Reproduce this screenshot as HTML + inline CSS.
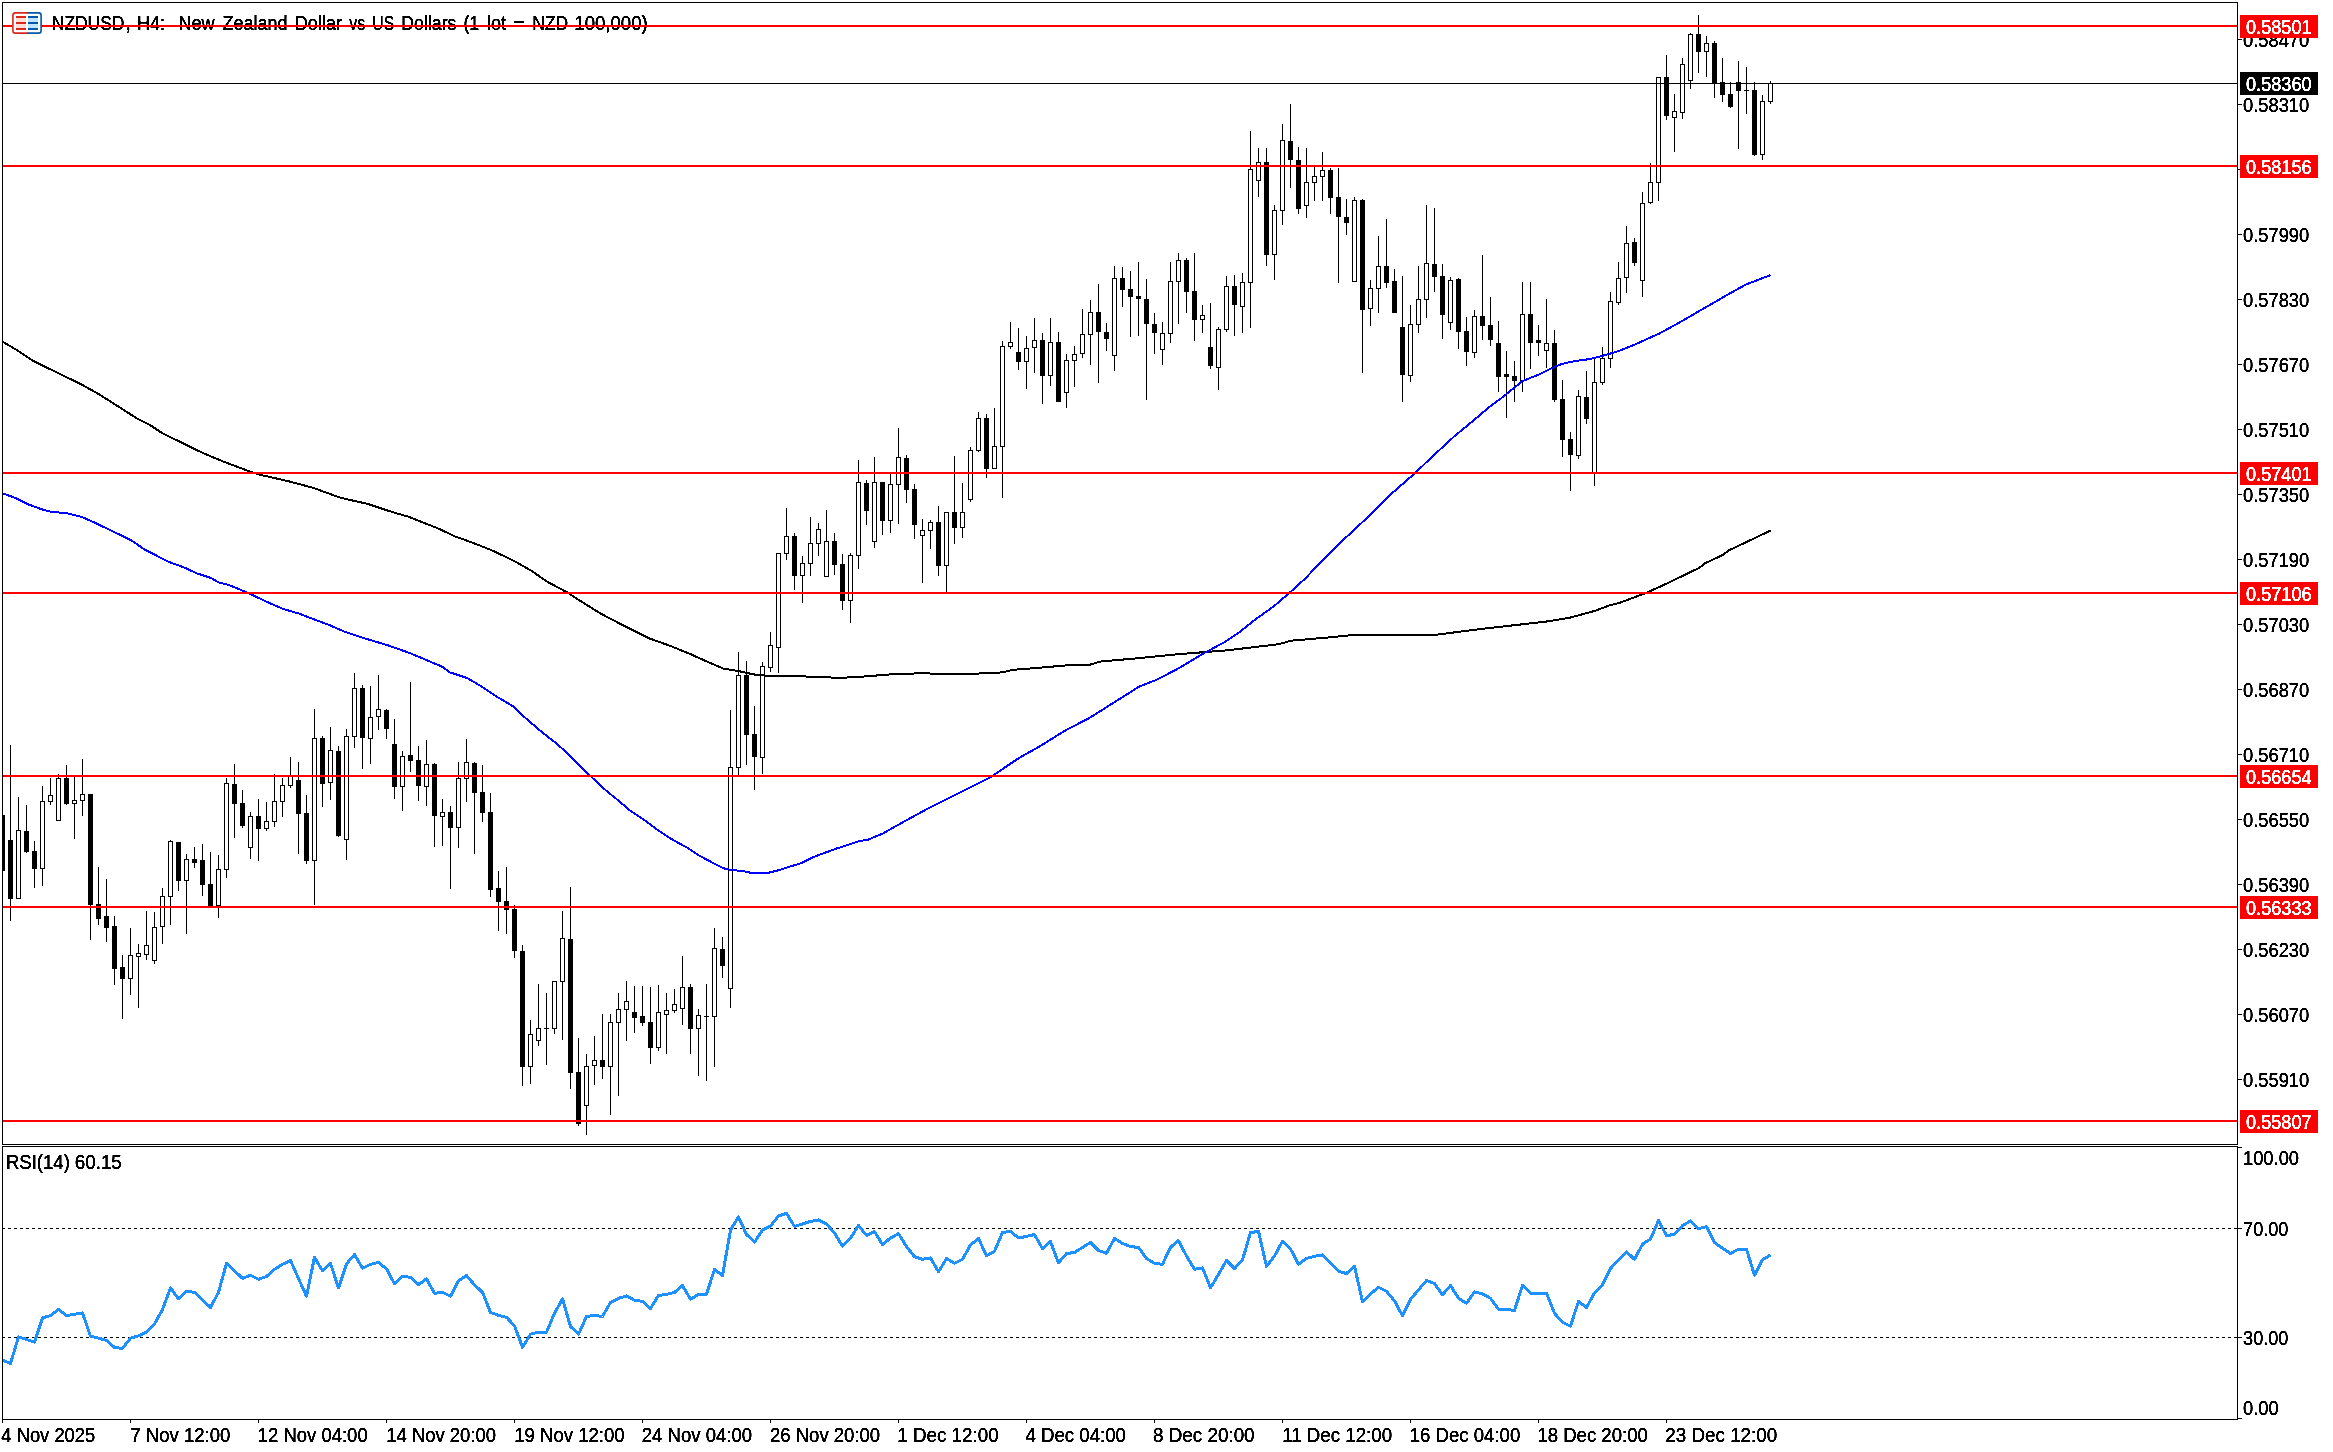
<!DOCTYPE html>
<html><head><meta charset="utf-8"><title>NZDUSD H4</title>
<style>html,body{margin:0;padding:0;background:#fff;}body{width:2333px;height:1452px;overflow:hidden;}svg{display:block;will-change:transform;}text{font-family:"Liberation Sans",sans-serif;}</style>
</head><body>
<svg width="2333" height="1452" viewBox="0 0 2333 1452">
<rect x="0" y="0" width="2333" height="1452" fill="#ffffff"/>
<defs><filter id="th" color-interpolation-filters="sRGB"><feComponentTransfer><feFuncA type="linear" slope="3" intercept="-1"/></feComponentTransfer></filter></defs>
<text filter="url(#th)" x="51.81" y="30" font-size="19.4" fill="#000" stroke="#000" stroke-width="0.4" textLength="72.57" lengthAdjust="spacingAndGlyphs">NZDUSD</text>
<text filter="url(#th)" x="125.5" y="30" font-size="19.4" fill="#000" stroke="#000" stroke-width="0.4">,</text>
<text filter="url(#th)" x="137.07" y="30" font-size="19.4" fill="#000" stroke="#000" stroke-width="0.4" textLength="28.07" lengthAdjust="spacingAndGlyphs">H4:</text>
<text filter="url(#th)" x="178.40" y="30" font-size="19.4" fill="#000" stroke="#000" stroke-width="0.4" textLength="36.09" lengthAdjust="spacingAndGlyphs">New</text>
<text filter="url(#th)" x="222.57" y="30" font-size="19.4" fill="#000" stroke="#000" stroke-width="0.4" textLength="64.88" lengthAdjust="spacingAndGlyphs">Zealand</text>
<text filter="url(#th)" x="294.82" y="30" font-size="19.4" fill="#000" stroke="#000" stroke-width="0.4" textLength="47.25" lengthAdjust="spacingAndGlyphs">Dollar</text>
<text filter="url(#th)" x="349.34" y="30" font-size="19.4" fill="#000" stroke="#000" stroke-width="0.4" textLength="16.01" lengthAdjust="spacingAndGlyphs">vs</text>
<text filter="url(#th)" x="372.33" y="30" font-size="19.4" fill="#000" stroke="#000" stroke-width="0.4" textLength="21.78" lengthAdjust="spacingAndGlyphs">US</text>
<text filter="url(#th)" x="401.33" y="30" font-size="19.4" fill="#000" stroke="#000" stroke-width="0.4" textLength="55.10" lengthAdjust="spacingAndGlyphs">Dollars</text>
<text filter="url(#th)" x="463.45" y="30" font-size="19.4" fill="#000" stroke="#000" stroke-width="0.4" textLength="15.84" lengthAdjust="spacingAndGlyphs">(1</text>
<text filter="url(#th)" x="486.92" y="30" font-size="19.4" fill="#000" stroke="#000" stroke-width="0.4" textLength="19.08" lengthAdjust="spacingAndGlyphs">lot</text>
<rect x="514" y="21" width="10" height="2" fill="#000" shape-rendering="crispEdges"/><rect x="514" y="25" width="10" height="2" fill="#000" shape-rendering="crispEdges"/>
<text filter="url(#th)" x="532.29" y="30" font-size="19.4" fill="#000" stroke="#000" stroke-width="0.4" textLength="35.99" lengthAdjust="spacingAndGlyphs">NZD</text>
<text filter="url(#th)" x="574.33" y="30" font-size="19.4" fill="#000" stroke="#000" stroke-width="0.4" textLength="73.43" lengthAdjust="spacingAndGlyphs">100,000)</text>
<g shape-rendering="crispEdges">
<rect x="2" y="2" width="2236" height="1" fill="#000"/>
<rect x="2" y="2" width="1" height="1143" fill="#000"/>
<rect x="2" y="1146" width="1" height="274" fill="#000"/>
<rect x="2237" y="2" width="1" height="1143" fill="#000"/>
<rect x="2237" y="1146" width="1" height="274" fill="#000"/>
<rect x="2" y="1144" width="2236" height="1" fill="#000"/>
<rect x="2" y="1146" width="2236" height="1" fill="#000"/>
<rect x="2" y="1419" width="2236" height="1" fill="#000"/>
<rect x="2238" y="39" width="4" height="1" fill="#000"/>
<rect x="2238" y="104" width="4" height="1" fill="#000"/>
<rect x="2238" y="169" width="4" height="1" fill="#000"/>
<rect x="2238" y="234" width="4" height="1" fill="#000"/>
<rect x="2238" y="299" width="4" height="1" fill="#000"/>
<rect x="2238" y="364" width="4" height="1" fill="#000"/>
<rect x="2238" y="429" width="4" height="1" fill="#000"/>
<rect x="2238" y="494" width="4" height="1" fill="#000"/>
<rect x="2238" y="559" width="4" height="1" fill="#000"/>
<rect x="2238" y="624" width="4" height="1" fill="#000"/>
<rect x="2238" y="689" width="4" height="1" fill="#000"/>
<rect x="2238" y="754" width="4" height="1" fill="#000"/>
<rect x="2238" y="819" width="4" height="1" fill="#000"/>
<rect x="2238" y="884" width="4" height="1" fill="#000"/>
<rect x="2238" y="949" width="4" height="1" fill="#000"/>
<rect x="2238" y="1014" width="4" height="1" fill="#000"/>
<rect x="2238" y="1079" width="4" height="1" fill="#000"/>
<rect x="2238" y="1147" width="4" height="1" fill="#000"/>
<rect x="2238" y="1418" width="4" height="1" fill="#000"/>
<rect x="2234" y="1228" width="8" height="1" fill="#000"/>
<rect x="2234" y="1337" width="8" height="1" fill="#000"/>
<rect x="2" y="1420" width="1" height="3" fill="#000"/>
<rect x="130" y="1420" width="1" height="3" fill="#000"/>
<rect x="258" y="1420" width="1" height="3" fill="#000"/>
<rect x="386" y="1420" width="1" height="3" fill="#000"/>
<rect x="514" y="1420" width="1" height="3" fill="#000"/>
<rect x="642" y="1420" width="1" height="3" fill="#000"/>
<rect x="770" y="1420" width="1" height="3" fill="#000"/>
<rect x="898" y="1420" width="1" height="3" fill="#000"/>
<rect x="1026" y="1420" width="1" height="3" fill="#000"/>
<rect x="1154" y="1420" width="1" height="3" fill="#000"/>
<rect x="1282" y="1420" width="1" height="3" fill="#000"/>
<rect x="1410" y="1420" width="1" height="3" fill="#000"/>
<rect x="1538" y="1420" width="1" height="3" fill="#000"/>
<rect x="1666" y="1420" width="1" height="3" fill="#000"/>
</g>
<g shape-rendering="crispEdges">
<rect x="3" y="815" width="2" height="56" fill="#000"/>
<rect x="10" y="745" width="1" height="176" fill="#000"/>
<rect x="8" y="840" width="5" height="59" fill="#000"/>
<rect x="18" y="797" width="1" height="102" fill="#000"/>
<rect x="16" y="830" width="5" height="69" fill="#000"/>
<rect x="17" y="831" width="3" height="67" fill="#fff"/>
<rect x="26" y="805" width="1" height="48" fill="#000"/>
<rect x="24" y="831" width="5" height="21" fill="#000"/>
<rect x="34" y="841" width="1" height="47" fill="#000"/>
<rect x="32" y="851" width="5" height="18" fill="#000"/>
<rect x="42" y="786" width="1" height="100" fill="#000"/>
<rect x="40" y="801" width="5" height="68" fill="#000"/>
<rect x="41" y="802" width="3" height="66" fill="#fff"/>
<rect x="50" y="778" width="1" height="27" fill="#000"/>
<rect x="48" y="795" width="5" height="7" fill="#000"/>
<rect x="49" y="796" width="3" height="5" fill="#fff"/>
<rect x="58" y="774" width="1" height="47" fill="#000"/>
<rect x="56" y="778" width="5" height="43" fill="#000"/>
<rect x="57" y="779" width="3" height="41" fill="#fff"/>
<rect x="66" y="765" width="1" height="40" fill="#000"/>
<rect x="64" y="778" width="5" height="26" fill="#000"/>
<rect x="74" y="777" width="1" height="62" fill="#000"/>
<rect x="72" y="800" width="5" height="4" fill="#000"/>
<rect x="73" y="801" width="3" height="2" fill="#fff"/>
<rect x="82" y="759" width="1" height="57" fill="#000"/>
<rect x="80" y="794" width="5" height="7" fill="#000"/>
<rect x="81" y="795" width="3" height="5" fill="#fff"/>
<rect x="90" y="794" width="1" height="146" fill="#000"/>
<rect x="88" y="794" width="5" height="111" fill="#000"/>
<rect x="98" y="867" width="1" height="58" fill="#000"/>
<rect x="96" y="904" width="5" height="15" fill="#000"/>
<rect x="106" y="879" width="1" height="63" fill="#000"/>
<rect x="104" y="916" width="5" height="12" fill="#000"/>
<rect x="114" y="916" width="1" height="69" fill="#000"/>
<rect x="112" y="926" width="5" height="43" fill="#000"/>
<rect x="122" y="955" width="1" height="64" fill="#000"/>
<rect x="120" y="967" width="5" height="12" fill="#000"/>
<rect x="130" y="928" width="1" height="67" fill="#000"/>
<rect x="128" y="955" width="5" height="24" fill="#000"/>
<rect x="129" y="956" width="3" height="22" fill="#fff"/>
<rect x="138" y="944" width="1" height="64" fill="#000"/>
<rect x="136" y="953" width="5" height="4" fill="#000"/>
<rect x="137" y="954" width="3" height="2" fill="#fff"/>
<rect x="146" y="911" width="1" height="49" fill="#000"/>
<rect x="144" y="945" width="5" height="10" fill="#000"/>
<rect x="145" y="946" width="3" height="8" fill="#fff"/>
<rect x="154" y="912" width="1" height="52" fill="#000"/>
<rect x="152" y="927" width="5" height="34" fill="#000"/>
<rect x="153" y="928" width="3" height="32" fill="#fff"/>
<rect x="162" y="888" width="1" height="56" fill="#000"/>
<rect x="160" y="896" width="5" height="31" fill="#000"/>
<rect x="161" y="897" width="3" height="29" fill="#fff"/>
<rect x="170" y="840" width="1" height="85" fill="#000"/>
<rect x="168" y="841" width="5" height="56" fill="#000"/>
<rect x="169" y="842" width="3" height="54" fill="#fff"/>
<rect x="178" y="842" width="1" height="49" fill="#000"/>
<rect x="176" y="842" width="5" height="39" fill="#000"/>
<rect x="186" y="854" width="1" height="80" fill="#000"/>
<rect x="184" y="859" width="5" height="22" fill="#000"/>
<rect x="185" y="860" width="3" height="20" fill="#fff"/>
<rect x="194" y="847" width="1" height="21" fill="#000"/>
<rect x="192" y="859" width="5" height="4" fill="#000"/>
<rect x="202" y="844" width="1" height="52" fill="#000"/>
<rect x="200" y="860" width="5" height="25" fill="#000"/>
<rect x="210" y="852" width="1" height="54" fill="#000"/>
<rect x="208" y="884" width="5" height="22" fill="#000"/>
<rect x="218" y="855" width="1" height="63" fill="#000"/>
<rect x="216" y="869" width="5" height="37" fill="#000"/>
<rect x="217" y="870" width="3" height="35" fill="#fff"/>
<rect x="226" y="778" width="1" height="100" fill="#000"/>
<rect x="224" y="783" width="5" height="87" fill="#000"/>
<rect x="225" y="784" width="3" height="85" fill="#fff"/>
<rect x="234" y="764" width="1" height="74" fill="#000"/>
<rect x="232" y="784" width="5" height="20" fill="#000"/>
<rect x="242" y="790" width="1" height="38" fill="#000"/>
<rect x="240" y="803" width="5" height="23" fill="#000"/>
<rect x="250" y="812" width="1" height="47" fill="#000"/>
<rect x="248" y="816" width="5" height="32" fill="#000"/>
<rect x="249" y="817" width="3" height="30" fill="#fff"/>
<rect x="258" y="799" width="1" height="62" fill="#000"/>
<rect x="256" y="816" width="5" height="13" fill="#000"/>
<rect x="266" y="802" width="1" height="29" fill="#000"/>
<rect x="264" y="821" width="5" height="8" fill="#000"/>
<rect x="265" y="822" width="3" height="6" fill="#fff"/>
<rect x="274" y="774" width="1" height="53" fill="#000"/>
<rect x="272" y="801" width="5" height="21" fill="#000"/>
<rect x="273" y="802" width="3" height="19" fill="#fff"/>
<rect x="282" y="778" width="1" height="39" fill="#000"/>
<rect x="280" y="785" width="5" height="17" fill="#000"/>
<rect x="281" y="786" width="3" height="15" fill="#fff"/>
<rect x="290" y="757" width="1" height="31" fill="#000"/>
<rect x="288" y="776" width="5" height="10" fill="#000"/>
<rect x="289" y="777" width="3" height="8" fill="#fff"/>
<rect x="298" y="762" width="1" height="92" fill="#000"/>
<rect x="296" y="780" width="5" height="34" fill="#000"/>
<rect x="306" y="795" width="1" height="69" fill="#000"/>
<rect x="304" y="813" width="5" height="48" fill="#000"/>
<rect x="314" y="709" width="1" height="196" fill="#000"/>
<rect x="312" y="738" width="5" height="123" fill="#000"/>
<rect x="313" y="739" width="3" height="121" fill="#fff"/>
<rect x="322" y="736" width="1" height="71" fill="#000"/>
<rect x="320" y="738" width="5" height="46" fill="#000"/>
<rect x="330" y="727" width="1" height="73" fill="#000"/>
<rect x="328" y="750" width="5" height="33" fill="#000"/>
<rect x="329" y="751" width="3" height="31" fill="#fff"/>
<rect x="338" y="746" width="1" height="91" fill="#000"/>
<rect x="336" y="751" width="5" height="85" fill="#000"/>
<rect x="346" y="729" width="1" height="131" fill="#000"/>
<rect x="344" y="736" width="5" height="104" fill="#000"/>
<rect x="345" y="737" width="3" height="102" fill="#fff"/>
<rect x="354" y="673" width="1" height="75" fill="#000"/>
<rect x="352" y="688" width="5" height="49" fill="#000"/>
<rect x="353" y="689" width="3" height="47" fill="#fff"/>
<rect x="362" y="685" width="1" height="84" fill="#000"/>
<rect x="360" y="688" width="5" height="50" fill="#000"/>
<rect x="370" y="686" width="1" height="78" fill="#000"/>
<rect x="368" y="717" width="5" height="22" fill="#000"/>
<rect x="369" y="718" width="3" height="20" fill="#fff"/>
<rect x="378" y="675" width="1" height="55" fill="#000"/>
<rect x="376" y="709" width="5" height="8" fill="#000"/>
<rect x="377" y="710" width="3" height="6" fill="#fff"/>
<rect x="386" y="709" width="1" height="30" fill="#000"/>
<rect x="384" y="710" width="5" height="19" fill="#000"/>
<rect x="394" y="719" width="1" height="80" fill="#000"/>
<rect x="392" y="744" width="5" height="43" fill="#000"/>
<rect x="402" y="751" width="1" height="60" fill="#000"/>
<rect x="400" y="756" width="5" height="31" fill="#000"/>
<rect x="401" y="757" width="3" height="29" fill="#fff"/>
<rect x="410" y="682" width="1" height="90" fill="#000"/>
<rect x="408" y="755" width="5" height="6" fill="#000"/>
<rect x="418" y="746" width="1" height="55" fill="#000"/>
<rect x="416" y="760" width="5" height="26" fill="#000"/>
<rect x="426" y="740" width="1" height="66" fill="#000"/>
<rect x="424" y="764" width="5" height="23" fill="#000"/>
<rect x="425" y="765" width="3" height="21" fill="#fff"/>
<rect x="434" y="763" width="1" height="84" fill="#000"/>
<rect x="432" y="764" width="5" height="52" fill="#000"/>
<rect x="442" y="799" width="1" height="47" fill="#000"/>
<rect x="440" y="812" width="5" height="5" fill="#000"/>
<rect x="441" y="813" width="3" height="3" fill="#fff"/>
<rect x="450" y="806" width="1" height="83" fill="#000"/>
<rect x="448" y="812" width="5" height="16" fill="#000"/>
<rect x="458" y="762" width="1" height="86" fill="#000"/>
<rect x="456" y="778" width="5" height="50" fill="#000"/>
<rect x="457" y="779" width="3" height="48" fill="#fff"/>
<rect x="466" y="739" width="1" height="63" fill="#000"/>
<rect x="464" y="762" width="5" height="17" fill="#000"/>
<rect x="465" y="763" width="3" height="15" fill="#fff"/>
<rect x="474" y="762" width="1" height="92" fill="#000"/>
<rect x="472" y="763" width="5" height="30" fill="#000"/>
<rect x="482" y="765" width="1" height="57" fill="#000"/>
<rect x="480" y="792" width="5" height="21" fill="#000"/>
<rect x="490" y="793" width="1" height="104" fill="#000"/>
<rect x="488" y="812" width="5" height="78" fill="#000"/>
<rect x="498" y="871" width="1" height="60" fill="#000"/>
<rect x="496" y="888" width="5" height="14" fill="#000"/>
<rect x="506" y="867" width="1" height="67" fill="#000"/>
<rect x="504" y="901" width="5" height="9" fill="#000"/>
<rect x="514" y="905" width="1" height="53" fill="#000"/>
<rect x="512" y="909" width="5" height="42" fill="#000"/>
<rect x="522" y="945" width="1" height="141" fill="#000"/>
<rect x="520" y="951" width="5" height="116" fill="#000"/>
<rect x="530" y="1020" width="1" height="64" fill="#000"/>
<rect x="528" y="1034" width="5" height="33" fill="#000"/>
<rect x="529" y="1035" width="3" height="31" fill="#fff"/>
<rect x="538" y="984" width="1" height="62" fill="#000"/>
<rect x="536" y="1028" width="5" height="13" fill="#000"/>
<rect x="537" y="1029" width="3" height="11" fill="#fff"/>
<rect x="546" y="993" width="1" height="72" fill="#000"/>
<rect x="544" y="1028" width="5" height="1" fill="#000"/>
<rect x="554" y="981" width="1" height="53" fill="#000"/>
<rect x="552" y="981" width="5" height="48" fill="#000"/>
<rect x="553" y="982" width="3" height="46" fill="#fff"/>
<rect x="562" y="911" width="1" height="129" fill="#000"/>
<rect x="560" y="938" width="5" height="44" fill="#000"/>
<rect x="561" y="939" width="3" height="42" fill="#fff"/>
<rect x="570" y="887" width="1" height="202" fill="#000"/>
<rect x="568" y="939" width="5" height="134" fill="#000"/>
<rect x="578" y="1038" width="1" height="88" fill="#000"/>
<rect x="576" y="1072" width="5" height="52" fill="#000"/>
<rect x="586" y="1054" width="1" height="81" fill="#000"/>
<rect x="584" y="1066" width="5" height="40" fill="#000"/>
<rect x="585" y="1067" width="3" height="38" fill="#fff"/>
<rect x="594" y="1036" width="1" height="49" fill="#000"/>
<rect x="592" y="1060" width="5" height="6" fill="#000"/>
<rect x="593" y="1061" width="3" height="4" fill="#fff"/>
<rect x="602" y="1014" width="1" height="65" fill="#000"/>
<rect x="600" y="1060" width="5" height="7" fill="#000"/>
<rect x="610" y="1014" width="1" height="101" fill="#000"/>
<rect x="608" y="1022" width="5" height="45" fill="#000"/>
<rect x="609" y="1023" width="3" height="43" fill="#fff"/>
<rect x="618" y="993" width="1" height="103" fill="#000"/>
<rect x="616" y="1009" width="5" height="14" fill="#000"/>
<rect x="617" y="1010" width="3" height="12" fill="#fff"/>
<rect x="626" y="981" width="1" height="60" fill="#000"/>
<rect x="624" y="1001" width="5" height="9" fill="#000"/>
<rect x="625" y="1002" width="3" height="7" fill="#fff"/>
<rect x="634" y="986" width="1" height="47" fill="#000"/>
<rect x="632" y="1012" width="5" height="6" fill="#000"/>
<rect x="642" y="986" width="1" height="40" fill="#000"/>
<rect x="640" y="1016" width="5" height="7" fill="#000"/>
<rect x="650" y="987" width="1" height="77" fill="#000"/>
<rect x="648" y="1022" width="5" height="26" fill="#000"/>
<rect x="658" y="985" width="1" height="66" fill="#000"/>
<rect x="656" y="1012" width="5" height="36" fill="#000"/>
<rect x="657" y="1013" width="3" height="34" fill="#fff"/>
<rect x="666" y="993" width="1" height="61" fill="#000"/>
<rect x="664" y="1010" width="5" height="5" fill="#000"/>
<rect x="665" y="1011" width="3" height="3" fill="#fff"/>
<rect x="674" y="989" width="1" height="24" fill="#000"/>
<rect x="672" y="1004" width="5" height="7" fill="#000"/>
<rect x="673" y="1005" width="3" height="5" fill="#fff"/>
<rect x="682" y="956" width="1" height="69" fill="#000"/>
<rect x="680" y="987" width="5" height="22" fill="#000"/>
<rect x="681" y="988" width="3" height="20" fill="#fff"/>
<rect x="690" y="984" width="1" height="70" fill="#000"/>
<rect x="688" y="987" width="5" height="42" fill="#000"/>
<rect x="698" y="1009" width="1" height="67" fill="#000"/>
<rect x="696" y="1015" width="5" height="14" fill="#000"/>
<rect x="697" y="1016" width="3" height="12" fill="#fff"/>
<rect x="706" y="984" width="1" height="97" fill="#000"/>
<rect x="704" y="1016" width="5" height="1" fill="#000"/>
<rect x="714" y="928" width="1" height="139" fill="#000"/>
<rect x="712" y="948" width="5" height="69" fill="#000"/>
<rect x="713" y="949" width="3" height="67" fill="#fff"/>
<rect x="722" y="937" width="1" height="41" fill="#000"/>
<rect x="720" y="949" width="5" height="17" fill="#000"/>
<rect x="730" y="710" width="1" height="298" fill="#000"/>
<rect x="728" y="767" width="5" height="222" fill="#000"/>
<rect x="729" y="768" width="3" height="220" fill="#fff"/>
<rect x="738" y="652" width="1" height="123" fill="#000"/>
<rect x="736" y="675" width="5" height="93" fill="#000"/>
<rect x="737" y="676" width="3" height="91" fill="#fff"/>
<rect x="746" y="661" width="1" height="104" fill="#000"/>
<rect x="744" y="675" width="5" height="60" fill="#000"/>
<rect x="754" y="706" width="1" height="84" fill="#000"/>
<rect x="752" y="734" width="5" height="23" fill="#000"/>
<rect x="762" y="662" width="1" height="112" fill="#000"/>
<rect x="760" y="666" width="5" height="92" fill="#000"/>
<rect x="761" y="667" width="3" height="90" fill="#fff"/>
<rect x="770" y="632" width="1" height="40" fill="#000"/>
<rect x="768" y="645" width="5" height="23" fill="#000"/>
<rect x="769" y="646" width="3" height="21" fill="#fff"/>
<rect x="778" y="553" width="1" height="120" fill="#000"/>
<rect x="776" y="553" width="5" height="95" fill="#000"/>
<rect x="777" y="554" width="3" height="93" fill="#fff"/>
<rect x="786" y="508" width="1" height="52" fill="#000"/>
<rect x="784" y="536" width="5" height="18" fill="#000"/>
<rect x="785" y="537" width="3" height="16" fill="#fff"/>
<rect x="794" y="533" width="1" height="57" fill="#000"/>
<rect x="792" y="536" width="5" height="40" fill="#000"/>
<rect x="802" y="556" width="1" height="47" fill="#000"/>
<rect x="800" y="563" width="5" height="13" fill="#000"/>
<rect x="801" y="564" width="3" height="11" fill="#fff"/>
<rect x="810" y="517" width="1" height="59" fill="#000"/>
<rect x="808" y="543" width="5" height="21" fill="#000"/>
<rect x="809" y="544" width="3" height="19" fill="#fff"/>
<rect x="818" y="523" width="1" height="33" fill="#000"/>
<rect x="816" y="529" width="5" height="15" fill="#000"/>
<rect x="817" y="530" width="3" height="13" fill="#fff"/>
<rect x="826" y="510" width="1" height="67" fill="#000"/>
<rect x="824" y="541" width="5" height="36" fill="#000"/>
<rect x="825" y="542" width="3" height="34" fill="#fff"/>
<rect x="834" y="533" width="1" height="42" fill="#000"/>
<rect x="832" y="541" width="5" height="24" fill="#000"/>
<rect x="842" y="554" width="1" height="56" fill="#000"/>
<rect x="840" y="564" width="5" height="37" fill="#000"/>
<rect x="850" y="553" width="1" height="70" fill="#000"/>
<rect x="848" y="555" width="5" height="46" fill="#000"/>
<rect x="849" y="556" width="3" height="44" fill="#fff"/>
<rect x="858" y="460" width="1" height="109" fill="#000"/>
<rect x="856" y="482" width="5" height="74" fill="#000"/>
<rect x="857" y="483" width="3" height="72" fill="#fff"/>
<rect x="866" y="480" width="1" height="45" fill="#000"/>
<rect x="864" y="483" width="5" height="28" fill="#000"/>
<rect x="874" y="457" width="1" height="91" fill="#000"/>
<rect x="872" y="482" width="5" height="60" fill="#000"/>
<rect x="873" y="483" width="3" height="58" fill="#fff"/>
<rect x="882" y="482" width="1" height="53" fill="#000"/>
<rect x="880" y="482" width="5" height="39" fill="#000"/>
<rect x="890" y="474" width="1" height="59" fill="#000"/>
<rect x="888" y="484" width="5" height="37" fill="#000"/>
<rect x="889" y="485" width="3" height="35" fill="#fff"/>
<rect x="898" y="428" width="1" height="96" fill="#000"/>
<rect x="896" y="457" width="5" height="28" fill="#000"/>
<rect x="897" y="458" width="3" height="26" fill="#fff"/>
<rect x="906" y="455" width="1" height="48" fill="#000"/>
<rect x="904" y="458" width="5" height="32" fill="#000"/>
<rect x="914" y="484" width="1" height="55" fill="#000"/>
<rect x="912" y="489" width="5" height="36" fill="#000"/>
<rect x="922" y="519" width="1" height="64" fill="#000"/>
<rect x="920" y="530" width="5" height="6" fill="#000"/>
<rect x="921" y="531" width="3" height="4" fill="#fff"/>
<rect x="930" y="520" width="1" height="29" fill="#000"/>
<rect x="928" y="522" width="5" height="9" fill="#000"/>
<rect x="929" y="523" width="3" height="7" fill="#fff"/>
<rect x="938" y="506" width="1" height="70" fill="#000"/>
<rect x="936" y="522" width="5" height="44" fill="#000"/>
<rect x="946" y="512" width="1" height="80" fill="#000"/>
<rect x="944" y="512" width="5" height="54" fill="#000"/>
<rect x="945" y="513" width="3" height="52" fill="#fff"/>
<rect x="954" y="456" width="1" height="88" fill="#000"/>
<rect x="952" y="512" width="5" height="16" fill="#000"/>
<rect x="962" y="483" width="1" height="55" fill="#000"/>
<rect x="960" y="512" width="5" height="16" fill="#000"/>
<rect x="961" y="513" width="3" height="14" fill="#fff"/>
<rect x="970" y="447" width="1" height="55" fill="#000"/>
<rect x="968" y="450" width="5" height="50" fill="#000"/>
<rect x="969" y="451" width="3" height="48" fill="#fff"/>
<rect x="978" y="412" width="1" height="40" fill="#000"/>
<rect x="976" y="418" width="5" height="33" fill="#000"/>
<rect x="977" y="419" width="3" height="31" fill="#fff"/>
<rect x="986" y="414" width="1" height="64" fill="#000"/>
<rect x="984" y="418" width="5" height="51" fill="#000"/>
<rect x="994" y="408" width="1" height="61" fill="#000"/>
<rect x="992" y="446" width="5" height="23" fill="#000"/>
<rect x="993" y="447" width="3" height="21" fill="#fff"/>
<rect x="1002" y="341" width="1" height="157" fill="#000"/>
<rect x="1000" y="346" width="5" height="101" fill="#000"/>
<rect x="1001" y="347" width="3" height="99" fill="#fff"/>
<rect x="1010" y="322" width="1" height="27" fill="#000"/>
<rect x="1008" y="342" width="5" height="5" fill="#000"/>
<rect x="1009" y="343" width="3" height="3" fill="#fff"/>
<rect x="1018" y="328" width="1" height="42" fill="#000"/>
<rect x="1016" y="352" width="5" height="10" fill="#000"/>
<rect x="1026" y="336" width="1" height="53" fill="#000"/>
<rect x="1024" y="348" width="5" height="14" fill="#000"/>
<rect x="1025" y="349" width="3" height="12" fill="#fff"/>
<rect x="1034" y="318" width="1" height="55" fill="#000"/>
<rect x="1032" y="340" width="5" height="8" fill="#000"/>
<rect x="1033" y="341" width="3" height="6" fill="#fff"/>
<rect x="1042" y="333" width="1" height="71" fill="#000"/>
<rect x="1040" y="340" width="5" height="36" fill="#000"/>
<rect x="1050" y="318" width="1" height="68" fill="#000"/>
<rect x="1048" y="342" width="5" height="34" fill="#000"/>
<rect x="1049" y="343" width="3" height="32" fill="#fff"/>
<rect x="1058" y="332" width="1" height="70" fill="#000"/>
<rect x="1056" y="342" width="5" height="60" fill="#000"/>
<rect x="1066" y="354" width="1" height="54" fill="#000"/>
<rect x="1064" y="360" width="5" height="33" fill="#000"/>
<rect x="1065" y="361" width="3" height="31" fill="#fff"/>
<rect x="1074" y="346" width="1" height="41" fill="#000"/>
<rect x="1072" y="354" width="5" height="7" fill="#000"/>
<rect x="1073" y="355" width="3" height="5" fill="#fff"/>
<rect x="1082" y="309" width="1" height="49" fill="#000"/>
<rect x="1080" y="334" width="5" height="20" fill="#000"/>
<rect x="1081" y="335" width="3" height="18" fill="#fff"/>
<rect x="1090" y="300" width="1" height="65" fill="#000"/>
<rect x="1088" y="312" width="5" height="23" fill="#000"/>
<rect x="1089" y="313" width="3" height="21" fill="#fff"/>
<rect x="1098" y="284" width="1" height="99" fill="#000"/>
<rect x="1096" y="312" width="5" height="20" fill="#000"/>
<rect x="1106" y="323" width="1" height="28" fill="#000"/>
<rect x="1104" y="332" width="5" height="7" fill="#000"/>
<rect x="1114" y="266" width="1" height="105" fill="#000"/>
<rect x="1112" y="278" width="5" height="78" fill="#000"/>
<rect x="1113" y="279" width="3" height="76" fill="#fff"/>
<rect x="1122" y="267" width="1" height="40" fill="#000"/>
<rect x="1120" y="278" width="5" height="12" fill="#000"/>
<rect x="1130" y="271" width="1" height="66" fill="#000"/>
<rect x="1128" y="289" width="5" height="8" fill="#000"/>
<rect x="1138" y="262" width="1" height="74" fill="#000"/>
<rect x="1136" y="296" width="5" height="3" fill="#000"/>
<rect x="1146" y="279" width="1" height="121" fill="#000"/>
<rect x="1144" y="299" width="5" height="25" fill="#000"/>
<rect x="1154" y="313" width="1" height="41" fill="#000"/>
<rect x="1152" y="324" width="5" height="9" fill="#000"/>
<rect x="1162" y="322" width="1" height="43" fill="#000"/>
<rect x="1160" y="333" width="5" height="17" fill="#000"/>
<rect x="1161" y="334" width="3" height="15" fill="#fff"/>
<rect x="1170" y="262" width="1" height="81" fill="#000"/>
<rect x="1168" y="281" width="5" height="53" fill="#000"/>
<rect x="1169" y="282" width="3" height="51" fill="#fff"/>
<rect x="1178" y="253" width="1" height="71" fill="#000"/>
<rect x="1176" y="260" width="5" height="22" fill="#000"/>
<rect x="1177" y="261" width="3" height="20" fill="#fff"/>
<rect x="1186" y="258" width="1" height="55" fill="#000"/>
<rect x="1184" y="260" width="5" height="32" fill="#000"/>
<rect x="1194" y="253" width="1" height="88" fill="#000"/>
<rect x="1192" y="291" width="5" height="29" fill="#000"/>
<rect x="1202" y="305" width="1" height="28" fill="#000"/>
<rect x="1200" y="315" width="5" height="5" fill="#000"/>
<rect x="1201" y="316" width="3" height="3" fill="#fff"/>
<rect x="1210" y="303" width="1" height="66" fill="#000"/>
<rect x="1208" y="347" width="5" height="19" fill="#000"/>
<rect x="1218" y="327" width="1" height="63" fill="#000"/>
<rect x="1216" y="329" width="5" height="39" fill="#000"/>
<rect x="1217" y="330" width="3" height="37" fill="#fff"/>
<rect x="1226" y="276" width="1" height="56" fill="#000"/>
<rect x="1224" y="286" width="5" height="44" fill="#000"/>
<rect x="1225" y="287" width="3" height="42" fill="#fff"/>
<rect x="1234" y="275" width="1" height="61" fill="#000"/>
<rect x="1232" y="286" width="5" height="19" fill="#000"/>
<rect x="1242" y="273" width="1" height="60" fill="#000"/>
<rect x="1240" y="282" width="5" height="25" fill="#000"/>
<rect x="1241" y="283" width="3" height="23" fill="#fff"/>
<rect x="1250" y="131" width="1" height="197" fill="#000"/>
<rect x="1248" y="169" width="5" height="114" fill="#000"/>
<rect x="1249" y="170" width="3" height="112" fill="#fff"/>
<rect x="1258" y="148" width="1" height="49" fill="#000"/>
<rect x="1256" y="162" width="5" height="19" fill="#000"/>
<rect x="1257" y="163" width="3" height="17" fill="#fff"/>
<rect x="1266" y="148" width="1" height="118" fill="#000"/>
<rect x="1264" y="162" width="5" height="93" fill="#000"/>
<rect x="1274" y="205" width="1" height="75" fill="#000"/>
<rect x="1272" y="210" width="5" height="45" fill="#000"/>
<rect x="1273" y="211" width="3" height="43" fill="#fff"/>
<rect x="1282" y="124" width="1" height="101" fill="#000"/>
<rect x="1280" y="140" width="5" height="71" fill="#000"/>
<rect x="1281" y="141" width="3" height="69" fill="#fff"/>
<rect x="1290" y="104" width="1" height="84" fill="#000"/>
<rect x="1288" y="141" width="5" height="19" fill="#000"/>
<rect x="1298" y="147" width="1" height="67" fill="#000"/>
<rect x="1296" y="160" width="5" height="49" fill="#000"/>
<rect x="1306" y="148" width="1" height="70" fill="#000"/>
<rect x="1304" y="182" width="5" height="24" fill="#000"/>
<rect x="1305" y="183" width="3" height="22" fill="#fff"/>
<rect x="1314" y="166" width="1" height="35" fill="#000"/>
<rect x="1312" y="176" width="5" height="7" fill="#000"/>
<rect x="1313" y="177" width="3" height="5" fill="#fff"/>
<rect x="1322" y="152" width="1" height="49" fill="#000"/>
<rect x="1320" y="170" width="5" height="7" fill="#000"/>
<rect x="1321" y="171" width="3" height="5" fill="#fff"/>
<rect x="1330" y="168" width="1" height="46" fill="#000"/>
<rect x="1328" y="170" width="5" height="28" fill="#000"/>
<rect x="1338" y="168" width="1" height="115" fill="#000"/>
<rect x="1336" y="197" width="5" height="20" fill="#000"/>
<rect x="1346" y="199" width="1" height="36" fill="#000"/>
<rect x="1344" y="217" width="5" height="6" fill="#000"/>
<rect x="1354" y="197" width="1" height="85" fill="#000"/>
<rect x="1352" y="200" width="5" height="82" fill="#000"/>
<rect x="1353" y="201" width="3" height="80" fill="#fff"/>
<rect x="1362" y="199" width="1" height="174" fill="#000"/>
<rect x="1360" y="200" width="5" height="110" fill="#000"/>
<rect x="1370" y="280" width="1" height="46" fill="#000"/>
<rect x="1368" y="288" width="5" height="21" fill="#000"/>
<rect x="1369" y="289" width="3" height="19" fill="#fff"/>
<rect x="1378" y="236" width="1" height="77" fill="#000"/>
<rect x="1376" y="266" width="5" height="23" fill="#000"/>
<rect x="1377" y="267" width="3" height="21" fill="#fff"/>
<rect x="1386" y="219" width="1" height="69" fill="#000"/>
<rect x="1384" y="266" width="5" height="17" fill="#000"/>
<rect x="1394" y="269" width="1" height="44" fill="#000"/>
<rect x="1392" y="281" width="5" height="32" fill="#000"/>
<rect x="1402" y="276" width="1" height="126" fill="#000"/>
<rect x="1400" y="327" width="5" height="48" fill="#000"/>
<rect x="1410" y="305" width="1" height="77" fill="#000"/>
<rect x="1408" y="324" width="5" height="52" fill="#000"/>
<rect x="1409" y="325" width="3" height="50" fill="#fff"/>
<rect x="1418" y="266" width="1" height="67" fill="#000"/>
<rect x="1416" y="299" width="5" height="26" fill="#000"/>
<rect x="1417" y="300" width="3" height="24" fill="#fff"/>
<rect x="1426" y="205" width="1" height="113" fill="#000"/>
<rect x="1424" y="263" width="5" height="37" fill="#000"/>
<rect x="1425" y="264" width="3" height="35" fill="#fff"/>
<rect x="1434" y="208" width="1" height="84" fill="#000"/>
<rect x="1432" y="264" width="5" height="13" fill="#000"/>
<rect x="1442" y="264" width="1" height="75" fill="#000"/>
<rect x="1440" y="276" width="5" height="39" fill="#000"/>
<rect x="1450" y="277" width="1" height="53" fill="#000"/>
<rect x="1448" y="280" width="5" height="43" fill="#000"/>
<rect x="1449" y="281" width="3" height="41" fill="#fff"/>
<rect x="1458" y="278" width="1" height="71" fill="#000"/>
<rect x="1456" y="279" width="5" height="53" fill="#000"/>
<rect x="1466" y="317" width="1" height="49" fill="#000"/>
<rect x="1464" y="331" width="5" height="21" fill="#000"/>
<rect x="1474" y="310" width="1" height="48" fill="#000"/>
<rect x="1472" y="316" width="5" height="37" fill="#000"/>
<rect x="1473" y="317" width="3" height="35" fill="#fff"/>
<rect x="1482" y="255" width="1" height="85" fill="#000"/>
<rect x="1480" y="316" width="5" height="10" fill="#000"/>
<rect x="1490" y="297" width="1" height="49" fill="#000"/>
<rect x="1488" y="325" width="5" height="15" fill="#000"/>
<rect x="1498" y="321" width="1" height="71" fill="#000"/>
<rect x="1496" y="343" width="5" height="34" fill="#000"/>
<rect x="1506" y="351" width="1" height="67" fill="#000"/>
<rect x="1504" y="374" width="5" height="3" fill="#000"/>
<rect x="1514" y="361" width="1" height="41" fill="#000"/>
<rect x="1512" y="376" width="5" height="5" fill="#000"/>
<rect x="1522" y="282" width="1" height="110" fill="#000"/>
<rect x="1520" y="314" width="5" height="67" fill="#000"/>
<rect x="1521" y="315" width="3" height="65" fill="#fff"/>
<rect x="1530" y="282" width="1" height="87" fill="#000"/>
<rect x="1528" y="314" width="5" height="29" fill="#000"/>
<rect x="1538" y="325" width="1" height="31" fill="#000"/>
<rect x="1536" y="340" width="5" height="3" fill="#000"/>
<rect x="1546" y="299" width="1" height="69" fill="#000"/>
<rect x="1544" y="343" width="5" height="8" fill="#000"/>
<rect x="1545" y="344" width="3" height="6" fill="#fff"/>
<rect x="1554" y="330" width="1" height="72" fill="#000"/>
<rect x="1552" y="343" width="5" height="57" fill="#000"/>
<rect x="1562" y="380" width="1" height="77" fill="#000"/>
<rect x="1560" y="399" width="5" height="41" fill="#000"/>
<rect x="1570" y="432" width="1" height="59" fill="#000"/>
<rect x="1568" y="439" width="5" height="16" fill="#000"/>
<rect x="1578" y="390" width="1" height="69" fill="#000"/>
<rect x="1576" y="396" width="5" height="60" fill="#000"/>
<rect x="1577" y="397" width="3" height="58" fill="#fff"/>
<rect x="1586" y="371" width="1" height="53" fill="#000"/>
<rect x="1584" y="397" width="5" height="22" fill="#000"/>
<rect x="1594" y="358" width="1" height="128" fill="#000"/>
<rect x="1592" y="382" width="5" height="91" fill="#000"/>
<rect x="1593" y="383" width="3" height="89" fill="#fff"/>
<rect x="1602" y="347" width="1" height="38" fill="#000"/>
<rect x="1600" y="358" width="5" height="25" fill="#000"/>
<rect x="1601" y="359" width="3" height="23" fill="#fff"/>
<rect x="1610" y="292" width="1" height="76" fill="#000"/>
<rect x="1608" y="301" width="5" height="58" fill="#000"/>
<rect x="1609" y="302" width="3" height="56" fill="#fff"/>
<rect x="1618" y="262" width="1" height="43" fill="#000"/>
<rect x="1616" y="278" width="5" height="25" fill="#000"/>
<rect x="1617" y="279" width="3" height="23" fill="#fff"/>
<rect x="1626" y="226" width="1" height="67" fill="#000"/>
<rect x="1624" y="243" width="5" height="35" fill="#000"/>
<rect x="1625" y="244" width="3" height="33" fill="#fff"/>
<rect x="1634" y="238" width="1" height="28" fill="#000"/>
<rect x="1632" y="242" width="5" height="21" fill="#000"/>
<rect x="1642" y="192" width="1" height="105" fill="#000"/>
<rect x="1640" y="203" width="5" height="78" fill="#000"/>
<rect x="1641" y="204" width="3" height="76" fill="#fff"/>
<rect x="1650" y="163" width="1" height="41" fill="#000"/>
<rect x="1648" y="182" width="5" height="21" fill="#000"/>
<rect x="1649" y="183" width="3" height="19" fill="#fff"/>
<rect x="1658" y="77" width="1" height="124" fill="#000"/>
<rect x="1656" y="77" width="5" height="106" fill="#000"/>
<rect x="1657" y="78" width="3" height="104" fill="#fff"/>
<rect x="1666" y="55" width="1" height="65" fill="#000"/>
<rect x="1664" y="77" width="5" height="39" fill="#000"/>
<rect x="1674" y="94" width="1" height="58" fill="#000"/>
<rect x="1672" y="111" width="5" height="7" fill="#000"/>
<rect x="1673" y="112" width="3" height="5" fill="#fff"/>
<rect x="1682" y="58" width="1" height="61" fill="#000"/>
<rect x="1680" y="64" width="5" height="49" fill="#000"/>
<rect x="1681" y="65" width="3" height="47" fill="#fff"/>
<rect x="1690" y="33" width="1" height="56" fill="#000"/>
<rect x="1688" y="34" width="5" height="47" fill="#000"/>
<rect x="1689" y="35" width="3" height="45" fill="#fff"/>
<rect x="1698" y="15" width="1" height="58" fill="#000"/>
<rect x="1696" y="34" width="5" height="18" fill="#000"/>
<rect x="1706" y="36" width="1" height="41" fill="#000"/>
<rect x="1704" y="43" width="5" height="9" fill="#000"/>
<rect x="1705" y="44" width="3" height="7" fill="#fff"/>
<rect x="1714" y="41" width="1" height="57" fill="#000"/>
<rect x="1712" y="43" width="5" height="41" fill="#000"/>
<rect x="1722" y="58" width="1" height="44" fill="#000"/>
<rect x="1720" y="82" width="5" height="13" fill="#000"/>
<rect x="1730" y="82" width="1" height="26" fill="#000"/>
<rect x="1728" y="94" width="5" height="13" fill="#000"/>
<rect x="1738" y="61" width="1" height="88" fill="#000"/>
<rect x="1736" y="82" width="5" height="9" fill="#000"/>
<rect x="1746" y="67" width="1" height="47" fill="#000"/>
<rect x="1744" y="90" width="5" height="1" fill="#000"/>
<rect x="1754" y="82" width="1" height="74" fill="#000"/>
<rect x="1752" y="90" width="5" height="65" fill="#000"/>
<rect x="1762" y="95" width="1" height="65" fill="#000"/>
<rect x="1760" y="101" width="5" height="54" fill="#000"/>
<rect x="1761" y="102" width="3" height="52" fill="#fff"/>
<rect x="1770" y="81" width="1" height="23" fill="#000"/>
<rect x="1768" y="83" width="5" height="19" fill="#000"/>
<rect x="1769" y="84" width="3" height="17" fill="#fff"/>
</g>
<polyline points="3.0,341.9 18.6,351.1 33.6,361.1 49.7,369.0 82.0,384.7 99.5,394.6 119.3,407.1 136.7,418.3 149.2,424.5 161.6,432.7 181.5,442.6 201.4,452.3 223.8,461.8 248.6,471.0 261.0,475.0 288.4,481.2 313.3,487.9 340.6,497.8 368.0,504.0 392.8,512.2 407.8,516.5 437.6,528.2 455.0,536.4 472.4,542.6 492.3,550.5 514.7,561.2 532.0,571.2 547.0,581.6 567.0,592.3 584.4,603.5 601.8,614.2 624.2,625.9 649.1,638.3 671.4,646.3 691.3,654.5 708.7,662.4 723.7,668.7 738.6,671.1 753.5,674.4 768.4,675.9 803.2,676.4 840.5,677.9 865.4,676.4 890.3,674.4 925.1,673.1 935.0,673.9 977.3,673.6 1002.1,672.4 1012.1,669.9 1034.4,668.2 1064.9,665.5 1089.7,664.8 1099.7,661.6 1139.5,658.1 1179.2,654.1 1226.5,650.4 1278.7,644.2 1291.1,640.7 1333.4,637.0 1358.3,634.5 1437.8,634.5 1487.5,628.2 1544.7,621.8 1570.3,617.6 1594.1,611.1 1609.6,605.4 1619.9,602.8 1645.7,593.0 1663.3,585.2 1699.5,567.7 1704.6,563.5 1723.2,554.8 1728.4,550.6 1770.7,530.5" fill="none" stroke="#000" stroke-width="2" stroke-linejoin="round" shape-rendering="crispEdges"/>
<polyline points="3.0,493.4 14.9,497.8 27.3,504.0 42.3,509.5 52.2,512.0 65.9,513.0 82.0,517.0 92.0,521.4 111.9,530.9 131.8,540.6 144.2,549.3 169.0,562.0 184.0,567.4 196.4,573.2 211.3,578.1 218.8,582.4 228.7,584.9 248.6,593.1 266.0,601.5 283.4,609.0 298.4,613.4 328.2,624.6 345.6,632.1 360.5,637.1 387.9,645.3 410.2,653.2 442.6,666.9 450.0,672.4 467.4,678.1 480.0,685.6 494.9,695.5 513.6,706.7 524.8,717.4 539.7,730.3 557.1,744.0 569.5,755.2 589.4,775.1 606.8,791.2 619.2,801.2 629.2,809.9 644.1,819.8 659.0,831.0 673.9,840.5 686.4,847.2 698.8,855.4 713.7,863.3 723.7,868.3 731.1,870.0 741.1,870.8 751.0,872.8 768.4,872.8 778.4,870.3 788.3,867.1 800.7,863.3 813.2,857.1 835.5,848.9 857.9,841.5 867.9,839.7 882.8,833.5 902.7,822.3 930.0,807.4 952.4,796.2 977.3,783.8 992.2,776.3 1004.6,767.6 1019.5,757.7 1039.4,746.5 1064.9,730.7 1089.7,717.8 1114.6,702.1 1139.5,686.4 1156.9,679.7 1179.2,668.0 1204.1,653.1 1224.0,642.4 1238.9,632.5 1256.3,618.8 1273.7,606.4 1291.1,591.4 1306.0,577.8 1321.0,561.6 1335.9,546.7 1350.8,533.0 1370.7,514.4 1390.6,494.5 1415.4,472.8 1430.4,458.4 1454.0,436.6 1478.0,416.7 1489.6,406.7 1500.0,399.2 1506.9,393.7 1515.0,387.0 1522.4,381.3 1530.0,378.0 1539.2,374.5 1547.0,370.5 1555.3,366.4 1562.0,364.0 1570.1,362.1 1580.0,360.3 1590.0,359.1 1600.0,356.5 1609.7,353.8 1620.0,350.5 1635.7,344.2 1659.6,333.4 1680.0,322.2 1728.8,294.0 1745.8,284.6 1770.7,275.0" fill="none" stroke="#0000ff" stroke-width="2" stroke-linejoin="round" shape-rendering="crispEdges"/>
<g shape-rendering="crispEdges">
<rect x="3" y="83" width="2234" height="1" fill="#000"/>
<rect x="3" y="25" width="2234" height="2" fill="#ff0000"/>
<rect x="3" y="165" width="2234" height="2" fill="#ff0000"/>
<rect x="3" y="472" width="2234" height="2" fill="#ff0000"/>
<rect x="3" y="592" width="2234" height="2" fill="#ff0000"/>
<rect x="3" y="775" width="2234" height="2" fill="#ff0000"/>
<rect x="3" y="906" width="2234" height="2" fill="#ff0000"/>
<rect x="3" y="1120" width="2234" height="2" fill="#ff0000"/>
</g>
<g>
<rect x="12.7" y="12.7" width="28.6" height="20.6" rx="2.5" ry="2.5" fill="#fff"/>
<clipPath id="cl"><rect x="0" y="0" width="27" height="50"/></clipPath>
<clipPath id="cr"><rect x="27" y="0" width="30" height="50"/></clipPath>
<rect x="12.9" y="12.9" width="28.2" height="20.2" rx="2.4" ry="2.4" fill="none" stroke="#d8281e" stroke-width="1.6" clip-path="url(#cl)"/>
<rect x="12.9" y="12.9" width="28.2" height="20.2" rx="2.4" ry="2.4" fill="none" stroke="#0058a6" stroke-width="1.6" clip-path="url(#cr)"/>
<rect x="16" y="17" width="10" height="12" fill="#ffe0d6"/>
<rect x="28" y="17" width="10" height="12" fill="#bfe6ff"/>
<rect x="16" y="16" width="10" height="2" fill="#d8281e"/>
<rect x="28" y="16" width="10" height="2" fill="#0058a6"/>
<rect x="16" y="22" width="10" height="2" fill="#d8281e"/>
<rect x="28" y="22" width="10" height="2" fill="#0058a6"/>
<rect x="16" y="28" width="10" height="2" fill="#d8281e"/>
<rect x="28" y="28" width="10" height="2" fill="#0058a6"/>
</g>
<g shape-rendering="crispEdges">
<line x1="2" y1="1228.5" x2="2237" y2="1228.5" stroke="#000" stroke-width="1" stroke-dasharray="3,3"/>
<line x1="2" y1="1337.5" x2="2237" y2="1337.5" stroke="#000" stroke-width="1" stroke-dasharray="3,3"/>
</g>
<polyline points="3.0,1360.4 10.5,1363.4 18.5,1336.8 26.5,1339.4 34.5,1342.2 42.5,1317.9 50.5,1315.5 58.5,1309.5 66.5,1315.5 74.5,1314.3 82.5,1312.9 90.5,1336.2 98.5,1338.2 106.5,1340.4 114.5,1347.4 122.5,1348.4 130.5,1338.2 138.5,1335.8 146.5,1332.2 154.5,1323.9 162.5,1309.5 170.5,1287.9 178.5,1298.9 186.5,1291.3 194.5,1292.3 202.5,1299.9 210.5,1307.5 218.5,1292.3 226.5,1263.3 234.5,1270.9 242.5,1278.3 250.5,1275.3 258.5,1279.3 266.5,1276.5 274.5,1269.3 282.5,1264.3 290.5,1260.5 298.5,1278.5 306.5,1296.3 314.5,1257.3 322.5,1270.9 330.5,1263.5 338.5,1287.9 346.5,1263.9 354.5,1254.5 362.5,1268.3 370.5,1264.3 378.5,1262.5 386.5,1268.9 394.5,1283.9 402.5,1276.3 410.5,1277.3 418.5,1284.5 426.5,1278.9 434.5,1293.3 442.5,1292.3 450.5,1296.3 458.5,1280.9 466.5,1275.5 474.5,1284.9 482.5,1292.3 490.5,1312.5 498.5,1315.3 506.5,1317.3 514.5,1325.8 522.5,1347.4 530.5,1334.2 538.5,1332.2 546.5,1332.2 554.5,1313.3 562.5,1298.9 570.5,1326.4 578.5,1334.2 586.5,1316.5 594.5,1315.3 602.5,1316.5 610.5,1302.5 618.5,1298.3 626.5,1295.9 634.5,1300.3 642.5,1301.3 650.5,1308.5 658.5,1295.5 666.5,1294.3 674.5,1292.5 682.5,1285.5 690.5,1299.3 698.5,1294.3 706.5,1294.3 714.5,1269.3 722.5,1275.5 730.5,1230.0 738.5,1217.0 746.5,1234.4 754.5,1242.3 762.5,1230.0 770.5,1226.0 778.5,1216.0 786.5,1213.4 794.5,1226.4 802.5,1224.0 810.5,1221.4 818.5,1220.0 826.5,1224.0 834.5,1233.0 842.5,1246.3 850.5,1238.0 858.5,1225.6 866.5,1235.4 874.5,1231.6 882.5,1244.5 890.5,1238.0 898.5,1233.6 906.5,1246.5 914.5,1256.7 922.5,1259.3 930.5,1257.9 938.5,1271.9 946.5,1258.5 954.5,1263.3 962.5,1259.3 970.5,1244.9 978.5,1238.4 986.5,1255.9 994.5,1251.3 1002.5,1232.4 1010.5,1231.4 1018.5,1238.0 1026.5,1236.4 1034.5,1234.6 1042.5,1248.5 1050.5,1241.6 1058.5,1262.9 1066.5,1253.5 1074.5,1252.5 1082.5,1247.5 1090.5,1242.5 1098.5,1250.5 1106.5,1253.3 1114.5,1238.4 1122.5,1243.5 1130.5,1246.5 1138.5,1247.5 1146.5,1258.5 1154.5,1263.3 1162.5,1264.3 1170.5,1247.3 1178.5,1240.6 1186.5,1255.9 1194.5,1269.3 1202.5,1267.9 1210.5,1287.9 1218.5,1274.3 1226.5,1260.5 1234.5,1268.5 1242.5,1259.9 1250.5,1232.6 1258.5,1231.4 1266.5,1266.3 1274.5,1255.9 1282.5,1241.4 1290.5,1248.9 1298.5,1264.3 1306.5,1258.3 1314.5,1256.3 1322.5,1254.9 1330.5,1262.9 1338.5,1271.3 1346.5,1273.5 1354.5,1266.3 1362.5,1301.7 1370.5,1293.9 1378.5,1287.3 1386.5,1291.3 1394.5,1300.9 1402.5,1315.9 1410.5,1299.3 1418.5,1289.9 1426.5,1280.5 1434.5,1283.5 1442.5,1294.9 1450.5,1285.5 1458.5,1298.3 1466.5,1303.3 1474.5,1291.9 1482.5,1293.9 1490.5,1298.3 1498.5,1309.3 1506.5,1309.3 1514.5,1310.5 1522.5,1285.3 1530.5,1293.3 1538.5,1293.3 1546.5,1293.3 1554.5,1313.3 1562.5,1322.3 1570.5,1326.2 1578.5,1301.3 1586.5,1307.5 1594.5,1292.9 1602.5,1284.9 1610.5,1268.5 1618.5,1259.9 1626.5,1251.9 1634.5,1259.3 1642.5,1244.3 1650.5,1239.0 1658.5,1220.6 1666.5,1235.6 1674.5,1234.4 1682.5,1225.6 1690.5,1221.0 1698.5,1228.6 1706.5,1226.6 1714.5,1242.5 1722.5,1248.3 1730.5,1253.5 1738.5,1249.2 1746.5,1249.2 1754.5,1275.3 1762.5,1259.9 1770.5,1254.9" fill="none" stroke="#1e90ff" stroke-width="3" stroke-linejoin="round" shape-rendering="crispEdges"/>
<text filter="url(#th)" x="5.88" y="1169" font-size="19.4" fill="#000" stroke="#000" stroke-width="0.4" textLength="64.00" lengthAdjust="spacingAndGlyphs">RSI(14)</text>
<text filter="url(#th)" x="74.75" y="1169" font-size="19.4" fill="#000" stroke="#000" stroke-width="0.4" textLength="47.09" lengthAdjust="spacingAndGlyphs">60.15</text>
<text filter="url(#th)" x="2243.01" y="47" font-size="19.4" fill="#000" stroke="#000" stroke-width="0.4" textLength="66.21" lengthAdjust="spacingAndGlyphs">0.58470</text>
<text filter="url(#th)" x="2243.01" y="112" font-size="19.4" fill="#000" stroke="#000" stroke-width="0.4" textLength="66.21" lengthAdjust="spacingAndGlyphs">0.58310</text>
<text filter="url(#th)" x="2243.01" y="177" font-size="19.4" fill="#000" stroke="#000" stroke-width="0.4" textLength="66.21" lengthAdjust="spacingAndGlyphs">0.58150</text>
<text filter="url(#th)" x="2243.01" y="242" font-size="19.4" fill="#000" stroke="#000" stroke-width="0.4" textLength="66.21" lengthAdjust="spacingAndGlyphs">0.57990</text>
<text filter="url(#th)" x="2243.01" y="307" font-size="19.4" fill="#000" stroke="#000" stroke-width="0.4" textLength="66.21" lengthAdjust="spacingAndGlyphs">0.57830</text>
<text filter="url(#th)" x="2243.01" y="372" font-size="19.4" fill="#000" stroke="#000" stroke-width="0.4" textLength="66.21" lengthAdjust="spacingAndGlyphs">0.57670</text>
<text filter="url(#th)" x="2243.01" y="437" font-size="19.4" fill="#000" stroke="#000" stroke-width="0.4" textLength="66.21" lengthAdjust="spacingAndGlyphs">0.57510</text>
<text filter="url(#th)" x="2243.01" y="502" font-size="19.4" fill="#000" stroke="#000" stroke-width="0.4" textLength="66.21" lengthAdjust="spacingAndGlyphs">0.57350</text>
<text filter="url(#th)" x="2243.01" y="567" font-size="19.4" fill="#000" stroke="#000" stroke-width="0.4" textLength="66.21" lengthAdjust="spacingAndGlyphs">0.57190</text>
<text filter="url(#th)" x="2243.01" y="632" font-size="19.4" fill="#000" stroke="#000" stroke-width="0.4" textLength="66.21" lengthAdjust="spacingAndGlyphs">0.57030</text>
<text filter="url(#th)" x="2243.01" y="697" font-size="19.4" fill="#000" stroke="#000" stroke-width="0.4" textLength="66.21" lengthAdjust="spacingAndGlyphs">0.56870</text>
<text filter="url(#th)" x="2243.01" y="762" font-size="19.4" fill="#000" stroke="#000" stroke-width="0.4" textLength="66.21" lengthAdjust="spacingAndGlyphs">0.56710</text>
<text filter="url(#th)" x="2243.01" y="827" font-size="19.4" fill="#000" stroke="#000" stroke-width="0.4" textLength="66.21" lengthAdjust="spacingAndGlyphs">0.56550</text>
<text filter="url(#th)" x="2243.01" y="892" font-size="19.4" fill="#000" stroke="#000" stroke-width="0.4" textLength="66.21" lengthAdjust="spacingAndGlyphs">0.56390</text>
<text filter="url(#th)" x="2243.01" y="957" font-size="19.4" fill="#000" stroke="#000" stroke-width="0.4" textLength="66.21" lengthAdjust="spacingAndGlyphs">0.56230</text>
<text filter="url(#th)" x="2243.01" y="1022" font-size="19.4" fill="#000" stroke="#000" stroke-width="0.4" textLength="66.21" lengthAdjust="spacingAndGlyphs">0.56070</text>
<text filter="url(#th)" x="2243.01" y="1087" font-size="19.4" fill="#000" stroke="#000" stroke-width="0.4" textLength="66.21" lengthAdjust="spacingAndGlyphs">0.55910</text>
<text filter="url(#th)" x="2243.00" y="1165" font-size="19.4" fill="#000" stroke="#000" stroke-width="0.4" textLength="56.02" lengthAdjust="spacingAndGlyphs">100.00</text>
<text filter="url(#th)" x="2243.12" y="1236" font-size="19.4" fill="#000" stroke="#000" stroke-width="0.4" textLength="45.27" lengthAdjust="spacingAndGlyphs">70.00</text>
<text filter="url(#th)" x="2243.12" y="1345" font-size="19.4" fill="#000" stroke="#000" stroke-width="0.4" textLength="45.27" lengthAdjust="spacingAndGlyphs">30.00</text>
<text filter="url(#th)" x="2242.99" y="1415" font-size="19.4" fill="#000" stroke="#000" stroke-width="0.4" textLength="35.65" lengthAdjust="spacingAndGlyphs">0.00</text>
<rect x="2240" y="15" width="78" height="23" fill="#ff0000" shape-rendering="crispEdges"/>
<text filter="url(#th)" x="2246.01" y="34" font-size="19.4" fill="#fff" stroke="#fff" stroke-width="0.4" textLength="65.57" lengthAdjust="spacingAndGlyphs">0.58501</text>
<rect x="2240" y="155" width="78" height="23" fill="#ff0000" shape-rendering="crispEdges"/>
<text filter="url(#th)" x="2246.01" y="174" font-size="19.4" fill="#fff" stroke="#fff" stroke-width="0.4" textLength="65.57" lengthAdjust="spacingAndGlyphs">0.58156</text>
<rect x="2240" y="462" width="78" height="23" fill="#ff0000" shape-rendering="crispEdges"/>
<text filter="url(#th)" x="2246.01" y="481" font-size="19.4" fill="#fff" stroke="#fff" stroke-width="0.4" textLength="65.57" lengthAdjust="spacingAndGlyphs">0.57401</text>
<rect x="2240" y="582" width="78" height="23" fill="#ff0000" shape-rendering="crispEdges"/>
<text filter="url(#th)" x="2246.01" y="601" font-size="19.4" fill="#fff" stroke="#fff" stroke-width="0.4" textLength="65.57" lengthAdjust="spacingAndGlyphs">0.57106</text>
<rect x="2240" y="765" width="78" height="23" fill="#ff0000" shape-rendering="crispEdges"/>
<text filter="url(#th)" x="2246.01" y="784" font-size="19.4" fill="#fff" stroke="#fff" stroke-width="0.4" textLength="65.57" lengthAdjust="spacingAndGlyphs">0.56654</text>
<rect x="2240" y="896" width="78" height="23" fill="#ff0000" shape-rendering="crispEdges"/>
<text filter="url(#th)" x="2246.01" y="915" font-size="19.4" fill="#fff" stroke="#fff" stroke-width="0.4" textLength="65.57" lengthAdjust="spacingAndGlyphs">0.56333</text>
<rect x="2240" y="1110" width="78" height="23" fill="#ff0000" shape-rendering="crispEdges"/>
<text filter="url(#th)" x="2246.01" y="1129" font-size="19.4" fill="#fff" stroke="#fff" stroke-width="0.4" textLength="65.57" lengthAdjust="spacingAndGlyphs">0.55807</text>
<rect x="2240" y="72" width="78" height="23" fill="#000" shape-rendering="crispEdges"/>
<text filter="url(#th)" x="2246.01" y="91" font-size="19.4" fill="#fff" stroke="#fff" stroke-width="0.4" textLength="65.57" lengthAdjust="spacingAndGlyphs">0.58360</text>
<text filter="url(#th)" x="1.36" y="1442" font-size="19.4" fill="#000" stroke="#000" stroke-width="0.4" textLength="93.87" lengthAdjust="spacingAndGlyphs">4 Nov 2025</text>
<text filter="url(#th)" x="130.38" y="1442" font-size="19.4" fill="#000" stroke="#000" stroke-width="0.4" textLength="100.02" lengthAdjust="spacingAndGlyphs">7 Nov 12:00</text>
<text filter="url(#th)" x="257.83" y="1442" font-size="19.4" fill="#000" stroke="#000" stroke-width="0.4" textLength="109.84" lengthAdjust="spacingAndGlyphs">12 Nov 04:00</text>
<text filter="url(#th)" x="386.34" y="1442" font-size="19.4" fill="#000" stroke="#000" stroke-width="0.4" textLength="109.66" lengthAdjust="spacingAndGlyphs">14 Nov 20:00</text>
<text filter="url(#th)" x="514.19" y="1442" font-size="19.4" fill="#000" stroke="#000" stroke-width="0.4" textLength="110.46" lengthAdjust="spacingAndGlyphs">19 Nov 12:00</text>
<text filter="url(#th)" x="641.81" y="1442" font-size="19.4" fill="#000" stroke="#000" stroke-width="0.4" textLength="110.22" lengthAdjust="spacingAndGlyphs">24 Nov 04:00</text>
<text filter="url(#th)" x="769.96" y="1442" font-size="19.4" fill="#000" stroke="#000" stroke-width="0.4" textLength="110.20" lengthAdjust="spacingAndGlyphs">26 Nov 20:00</text>
<text filter="url(#th)" x="897.34" y="1442" font-size="19.4" fill="#000" stroke="#000" stroke-width="0.4" textLength="101.25" lengthAdjust="spacingAndGlyphs">1 Dec 12:00</text>
<text filter="url(#th)" x="1025.40" y="1442" font-size="19.4" fill="#000" stroke="#000" stroke-width="0.4" textLength="100.59" lengthAdjust="spacingAndGlyphs">4 Dec 04:00</text>
<text filter="url(#th)" x="1153.03" y="1442" font-size="19.4" fill="#000" stroke="#000" stroke-width="0.4" textLength="101.57" lengthAdjust="spacingAndGlyphs">8 Dec 20:00</text>
<text filter="url(#th)" x="1282.27" y="1442" font-size="19.4" fill="#000" stroke="#000" stroke-width="0.4" textLength="109.83" lengthAdjust="spacingAndGlyphs">11 Dec 12:00</text>
<text filter="url(#th)" x="1409.80" y="1442" font-size="19.4" fill="#000" stroke="#000" stroke-width="0.4" textLength="110.46" lengthAdjust="spacingAndGlyphs">16 Dec 04:00</text>
<text filter="url(#th)" x="1537.38" y="1442" font-size="19.4" fill="#000" stroke="#000" stroke-width="0.4" textLength="110.46" lengthAdjust="spacingAndGlyphs">18 Dec 20:00</text>
<text filter="url(#th)" x="1665.35" y="1442" font-size="19.4" fill="#000" stroke="#000" stroke-width="0.4" textLength="111.85" lengthAdjust="spacingAndGlyphs">23 Dec 12:00</text>
</svg></body></html>
